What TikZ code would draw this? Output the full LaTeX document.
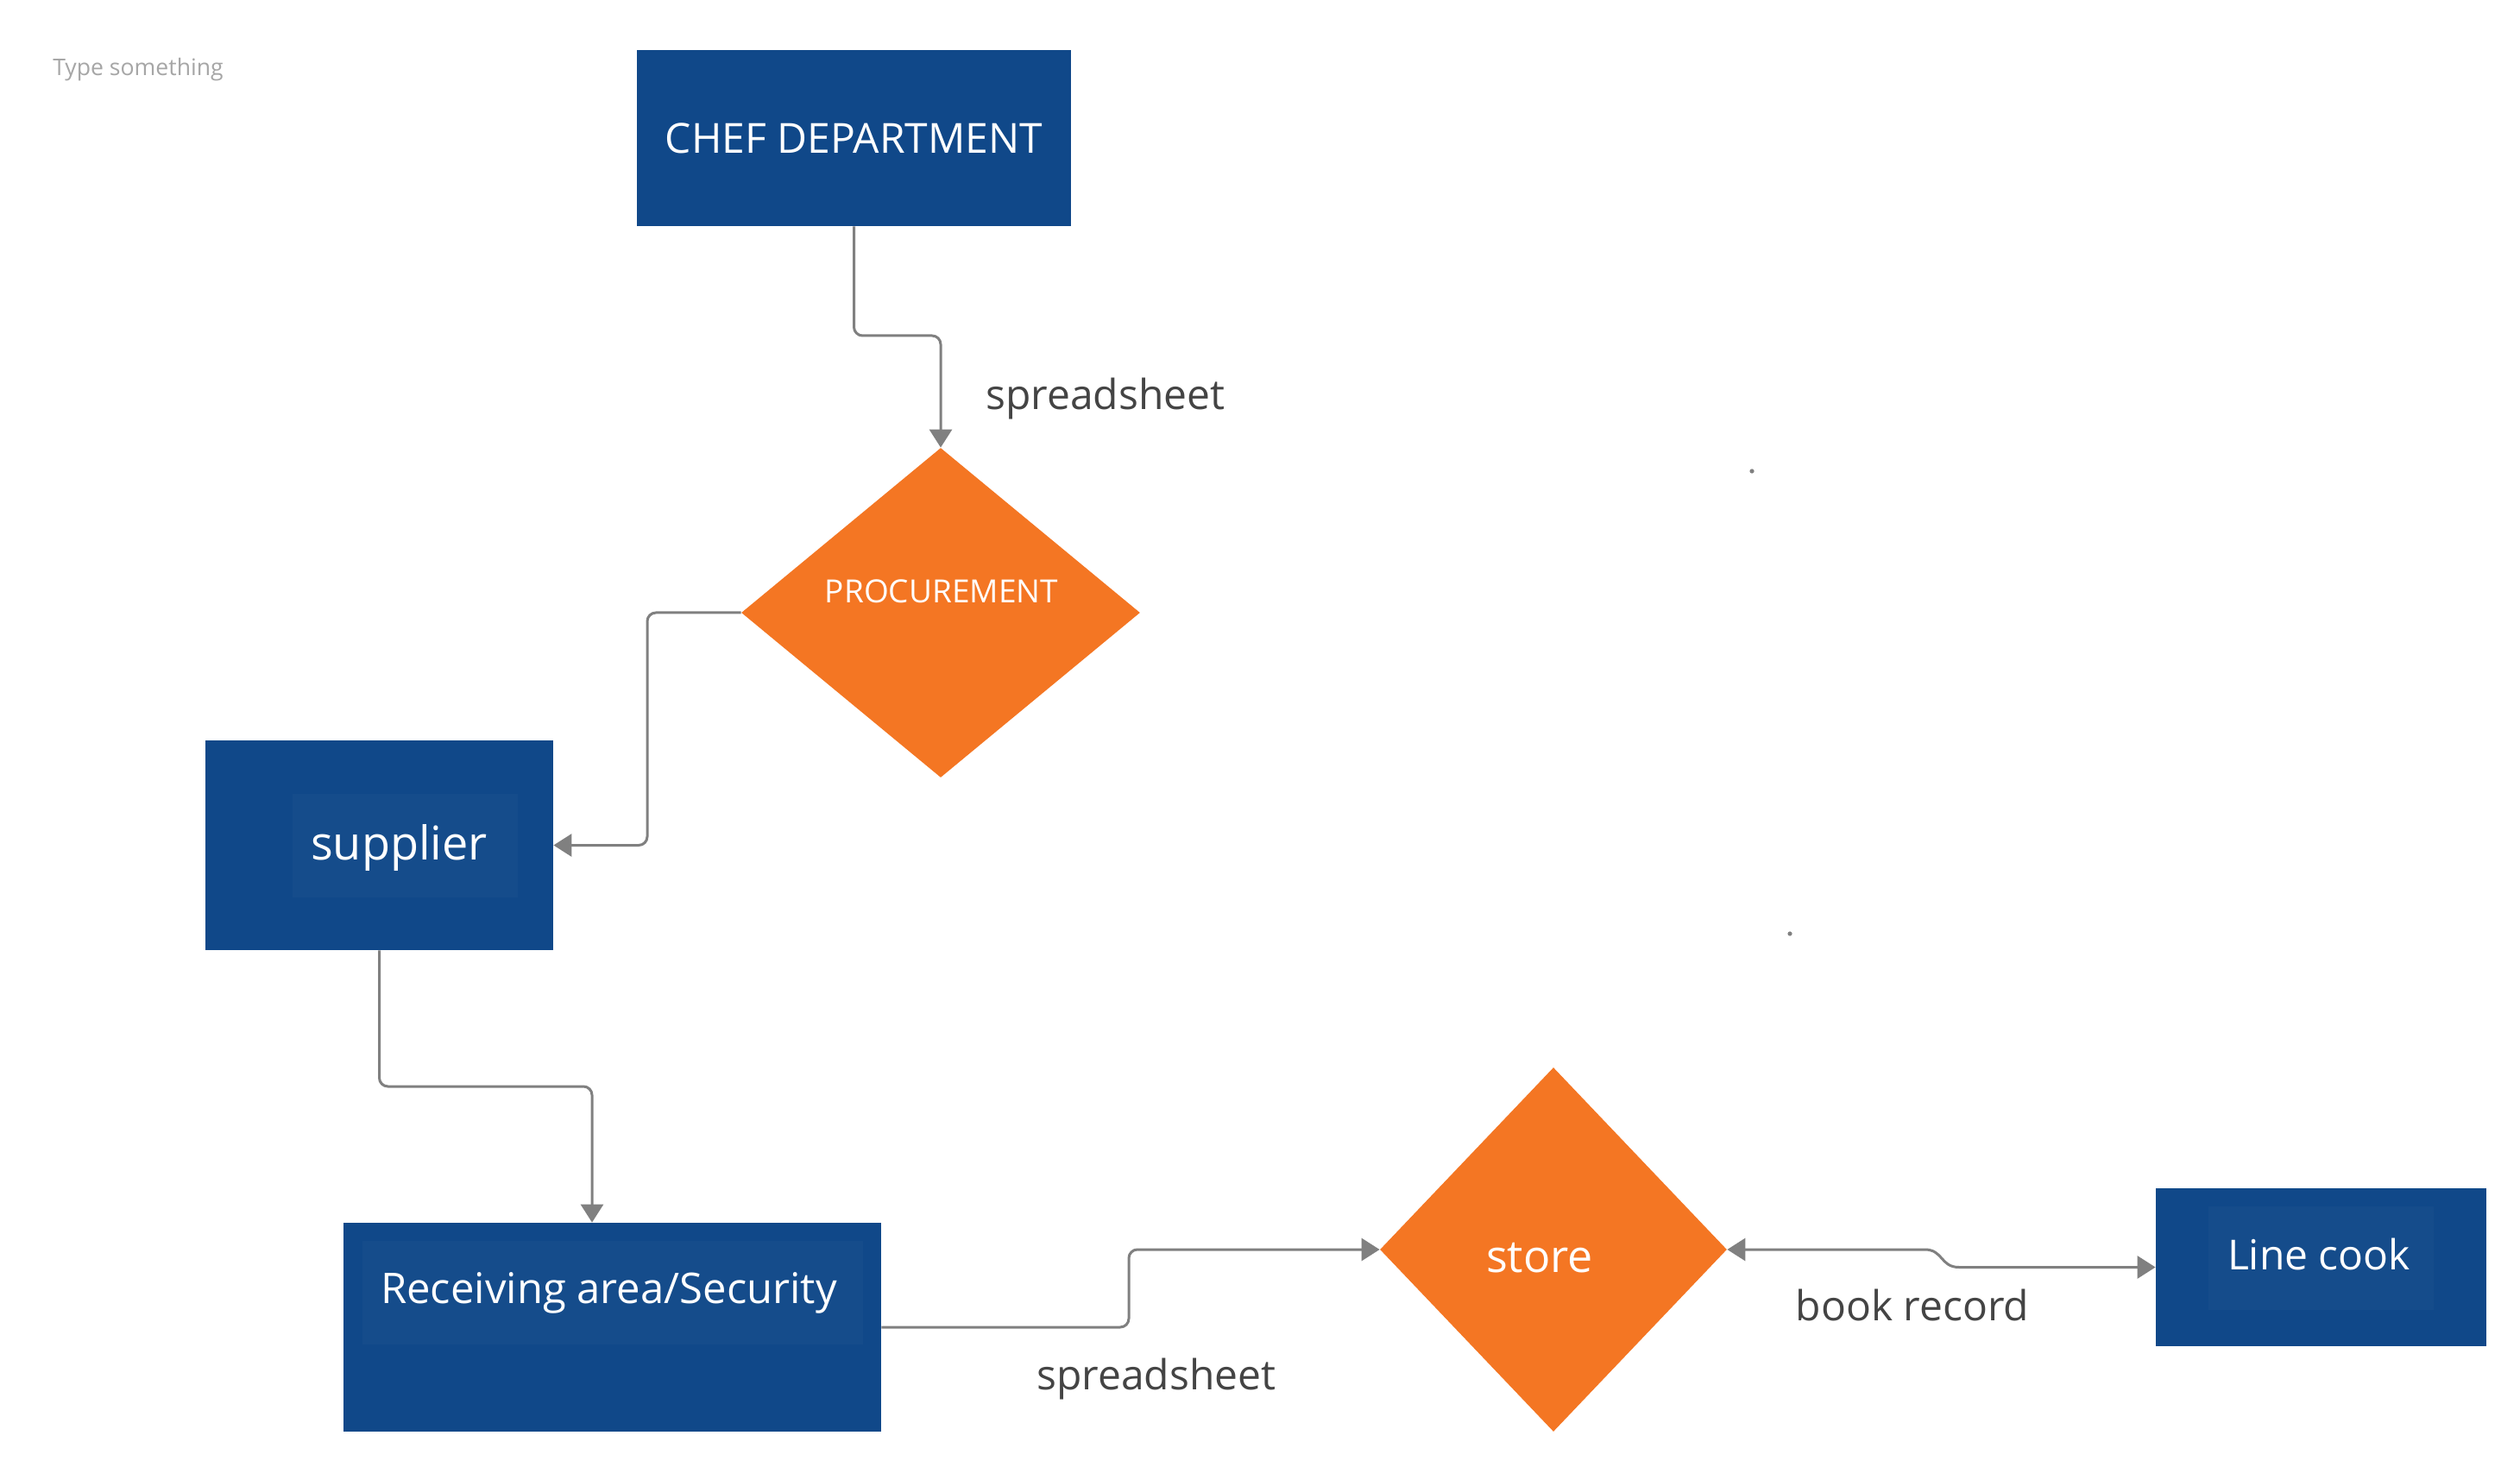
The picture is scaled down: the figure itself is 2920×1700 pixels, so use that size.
\documentclass[tikz,border=0pt]{standalone}
\usepackage{fontspec}
\setmainfont{Open Sans}
\usetikzlibrary{shapes.geometric,arrows.meta,calc}
\definecolor{boxblue}{HTML}{104889}
\definecolor{innerblue}{HTML}{154C8B}
\definecolor{orng}{HTML}{F47623}
\definecolor{conngray}{HTML}{808080}
\definecolor{labgray}{HTML}{444444}
\definecolor{hintgray}{HTML}{A6A6A6}
\begin{document}
\begin{tikzpicture}[x=0.5pt,y=-0.5pt,
  bluebox/.style={rectangle,fill=boxblue,draw=none,inner sep=0pt,text=white},
  innerbox/.style={rectangle,fill=innerblue,draw=none,inner sep=0pt},
  decision/.style={diamond,fill=orng,draw=none,inner sep=0pt},
  wtext/.style={text=white,inner sep=0pt,font=\fontsize{24}{29}\selectfont},
  lab/.style={text=labgray,inner sep=0pt,font=\fontsize{24}{29}\selectfont},
  hint/.style={text=hintgray,inner sep=0pt,font=\fontsize{13.3}{16}\selectfont},
  conn/.style={draw=conngray,line width=1.5pt,rounded corners=5pt,-{Triangle[length=10.5pt,width=13pt]}},
  conn2/.style={draw=conngray,line width=1.5pt,{Triangle[length=10.5pt,width=13pt]}-{Triangle[length=10.5pt,width=13pt]}},
  dotmark/.style={circle,fill=conngray,inner sep=0pt,minimum size=2.6pt}]
\fill[white] (0,0) rectangle (2920,1700);
\useasboundingbox (0,0) rectangle (2920,1700);

\node[hint] (hint) at (160,81) {Type something};

% chef department
\node[bluebox,minimum width=251.5pt,minimum height=102pt,font=\fontsize{24}{29}\selectfont] (chef) at (989.5,160) {CHEF DEPARTMENT};

% procurement
\node[decision,minimum width=231pt,minimum height=191pt] (proc) at (1090,710) {};
\node[text=white,inner sep=0pt,font=\fontsize{18.5}{22}\selectfont] (proct) at (1091,685) {PROCUREMENT};

% supplier
\node[bluebox,minimum width=201.5pt,minimum height=121.5pt] (sup) at (439.5,979.5) {};
\node[innerbox,minimum width=130.5pt,minimum height=60pt] (supin) at (469.5,980) {};
\node[wtext,font=\fontsize{27}{32}\selectfont] (supt) at (462.5,982) {supplier};

% receiving
\node[bluebox,minimum width=311.5pt,minimum height=121pt] (recv) at (709.5,1538) {};
\node[innerbox,minimum width=290pt,minimum height=60pt] (recvin) at (710,1498) {};
\node[wtext,font=\fontsize{24.5}{29}\selectfont] (recvt) at (705.5,1498) {Receiving area/Security};

% store
\node[decision,minimum width=201pt,minimum height=211pt] (store) at (1800,1448) {};
\node[wtext,font=\fontsize{26}{31}\selectfont] (storet) at (1784,1458) {store};

% line cook
\node[bluebox,minimum width=191.5pt,minimum height=91.5pt] (lc) at (2689.5,1468.5) {};
\node[innerbox,minimum width=130.5pt,minimum height=60pt] (lcin) at (2689.5,1458) {};
\node[wtext] (lct) at (2687,1453) {Line cook};

% labels
\node[lab] (l1) at (1281,462) {spreadsheet};
\node[lab] (l2) at (1340,1598) {spreadsheet};
\node[lab] (l3) at (2216,1512) {book record};

% stray dots
\node[dotmark] (d1) at (2030,546) {};
\node[dotmark] (d2) at (2074,1082) {};

% connectors
\draw[conn] (chef.south) -- (989.5,389) -| (proc.north);
\draw[conn] (proc.west) -- (750,710) |- (sup.east);
\draw[conn] (sup.south) -- (439.5,1259) -| ($(recv.north)+(-23.5,0)$);
\draw[conn] (recv.east) -- (1308,1538) |- (store.west);
\draw[conn2] (store.east) -- (2230,1448) .. controls (2252,1448) and (2248,1468.5) .. (2270,1468.5) -- (lc.west);
\end{tikzpicture}
\end{document}
